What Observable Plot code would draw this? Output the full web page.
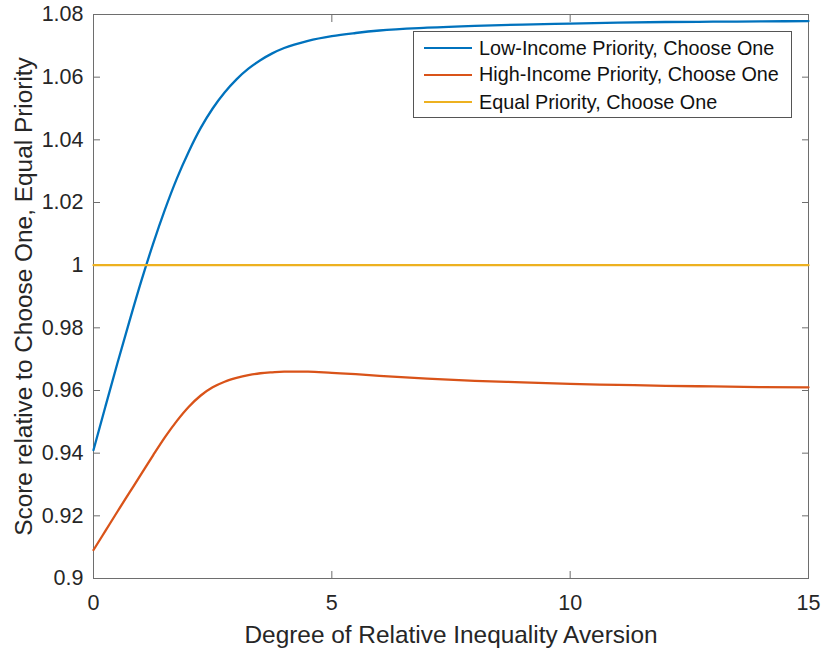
<!DOCTYPE html>
<html>
<head>
<meta charset="utf-8">
<script src="https://cdn.jsdelivr.net/npm/d3@7"></script>
<script src="https://cdn.jsdelivr.net/npm/@observablehq/plot@0.6"></script>
<style>
  html, body { margin: 0; padding: 0; background: #fff; }
  #wrap { position: relative; width: 822px; height: 648px; font-family: "Liberation Sans", Arial, Helvetica, sans-serif; }
  #legend { position: absolute; left: 413px; top: 31px; width: 377px; height: 85px; border: 1px solid #555; background: #fff; box-sizing: content-box; }
  .row { position: absolute; left: 0; height: 26px; display: flex; align-items: center; font-size: 19.8px; color: #111; }
  .sw { display: inline-block; width: 48px; height: 2px; margin-left: 10px; margin-right: 7px; }
</style>
</head>
<body>
<div id="wrap"></div>
<script>
// ---- data ----
const series = ["Low-Income Priority, Choose One", "High-Income Priority, Choose One", "Equal Priority, Choose One"];
const colors = ["#0072BD", "#D95319", "#EDB120"];
const xs = [0, 0.25, 0.5, 0.75, 1, 1.25, 1.5, 1.75, 2, 2.25, 2.5, 2.75, 3, 3.25, 3.5, 3.75, 4,
            4.5, 5, 5.5, 6, 7, 8, 9, 10, 11, 12, 13, 14, 15];
const lowIncome = [0.9410, 0.9549, 0.9686, 0.9819, 0.9948, 1.0068, 1.0178, 1.0277, 1.0363, 1.0438, 1.0500, 1.0551, 1.0593, 1.0627, 1.0654, 1.0676, 1.0693,
                   1.0716, 1.0731, 1.0741, 1.0749, 1.0758, 1.0764, 1.0768, 1.0771, 1.0774, 1.0776, 1.0777, 1.0778, 1.0779];
const highIncome = [0.9091, 0.9152, 0.9213, 0.9273, 0.9333, 0.9393, 0.9451, 0.9503, 0.9548, 0.9584, 0.9610, 0.9628, 0.9640, 0.9649, 0.9655, 0.9658, 0.9660,
                    0.9660, 0.9656, 0.9652, 0.9647, 0.9638, 0.9631, 0.9626, 0.9621, 0.9618, 0.9615, 0.9613, 0.9611, 0.9610];
const equal = [1, 1, 1, 1, 1, 1, 1, 1, 1, 1, 1, 1, 1, 1, 1, 1, 1,
               1, 1, 1, 1, 1, 1, 1, 1, 1, 1, 1, 1, 1];
const xTicks = [0, 5, 10, 15];
const xTickLabels = ["0", "5", "10", "15"];
const yTicks = [0.9, 0.92, 0.94, 0.96, 0.98, 1, 1.02, 1.04, 1.06, 1.08];
const yTickLabels = ["0.9", "0.92", "0.94", "0.96", "0.98", "1", "1.02", "1.04", "1.06", "1.08"];
const xLabel = "Degree of Relative Inequality Aversion";
const yLabel = "Score relative to Choose One, Equal Priority";

// ---- build table ----
const valuesBySeries = [lowIncome, highIncome, equal];
const rows = [];
series.forEach((s, si) => xs.forEach((x, i) => rows.push({series: s, x, y: valuesBySeries[si][i]})));

const axisColor = "#6e6e6e";
const textColor = "#262626";
const xFmt = d => xTickLabels[xTicks.indexOf(d)];
const yFmt = d => yTickLabels[yTicks.findIndex(t => Math.abs(t - d) < 1e-9)];

const chart = Plot.plot({
  width: 822,
  height: 648,
  marginLeft: 93,
  marginRight: 14,
  marginTop: 14,
  marginBottom: 70,
  style: {fontFamily: "'Liberation Sans', Arial, Helvetica, sans-serif", background: "#fff", color: textColor},
  x: {domain: [0, 15]},
  y: {domain: [0.9, 1.08]},
  color: {domain: series, range: colors},
  marks: [
    Plot.frame({stroke: axisColor, strokeWidth: 1}),
    // inward ticks on all four sides
    Plot.axisX(xTicks, {anchor: "bottom", tickSize: -7, fill: "none", stroke: axisColor, label: null}),
    Plot.axisX(xTicks, {anchor: "top", tickSize: -7, fill: "none", stroke: axisColor, label: null}),
    Plot.axisY(yTicks, {anchor: "left", tickSize: -7, fill: "none", stroke: axisColor, label: null}),
    Plot.axisY(yTicks, {anchor: "right", tickSize: -7, fill: "none", stroke: axisColor, label: null}),
    // tick labels
    Plot.axisX(xTicks, {anchor: "bottom", tickSize: 0, tickPadding: 16, tickFormat: xFmt, fontSize: 21.5, fill: textColor, label: null}),
    Plot.axisY(yTicks, {anchor: "left", tickSize: 0, tickPadding: 10, tickFormat: yFmt, fontSize: 21.5, fill: textColor, label: null}),
    // axis titles
    Plot.text([xLabel], {frameAnchor: "bottom", text: d => d, dy: 47, lineAnchor: "top", textAnchor: "middle", fontSize: 24.4, fill: textColor}),
    Plot.text([yLabel], {frameAnchor: "left", text: d => d, dx: -79, rotate: -90, lineAnchor: "top", textAnchor: "middle", fontSize: 24.4, fill: textColor}),
    // lines
    Plot.line(rows, {x: "x", y: "y", z: "series", stroke: "series", strokeWidth: 2.3, curve: "monotone-x"})
  ]
});

const wrap = document.getElementById("wrap");
wrap.appendChild(chart);

// legend overlay
const legend = document.createElement("div");
legend.id = "legend";
const rowTops = [3, 29.5, 57];
series.forEach((s, i) => {
  const r = document.createElement("div");
  r.className = "row";
  r.style.top = rowTops[i] + "px";
  const sw = document.createElement("span");
  sw.className = "sw";
  sw.style.background = colors[i];
  const t = document.createElement("span");
  t.textContent = s;
  r.appendChild(sw);
  r.appendChild(t);
  legend.appendChild(r);
});
wrap.appendChild(legend);
</script>
</body>
</html>
